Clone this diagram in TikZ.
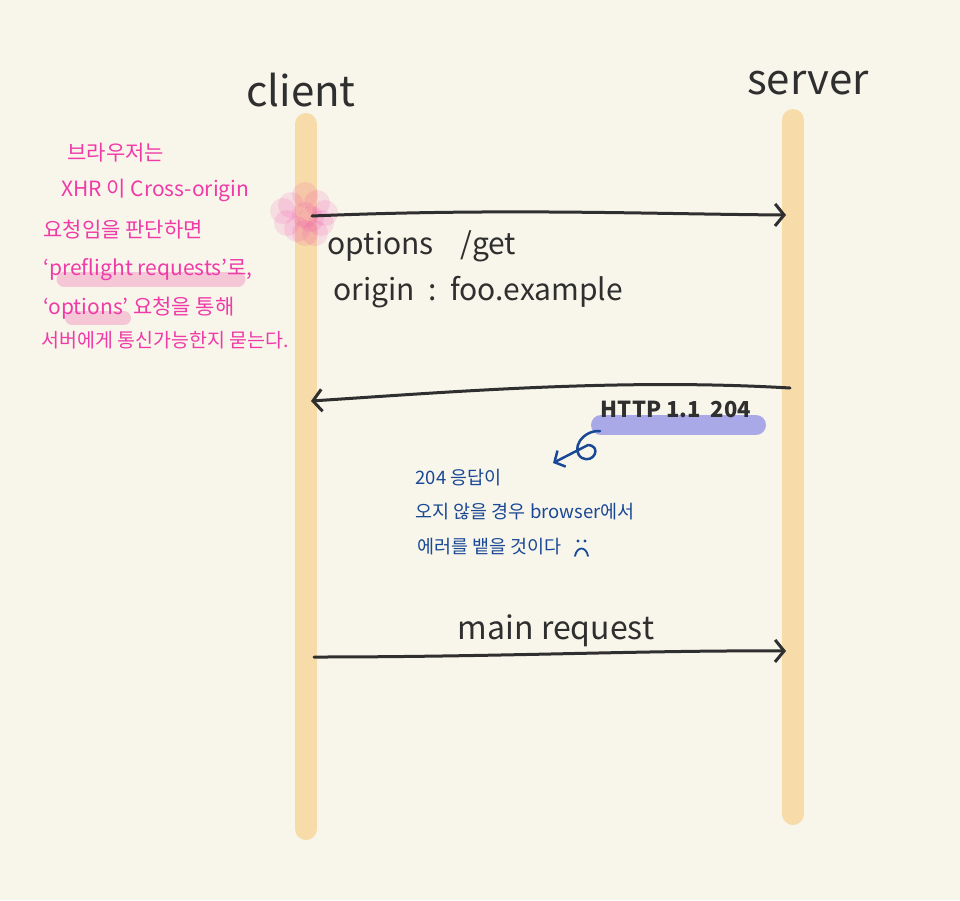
\documentclass[tikz,border=0pt]{standalone}
\usepackage{fontspec}
\setmainfont{Noto Sans CJK KR}
\usetikzlibrary{arrows.meta}
\definecolor{bg}{HTML}{F8F6EA}
\definecolor{life}{HTML}{F7DBA9}
\definecolor{ink}{HTML}{2F2F2F}
\definecolor{pinkt}{HTML}{F03AA8}
\definecolor{pinkhl}{HTML}{F4C6D6}
\definecolor{bluehl}{HTML}{A9A9E8}
\definecolor{bluet}{HTML}{1A4896}
\begin{document}
\begin{tikzpicture}[x=1pt,y=-1pt,
  lifeline/.style={line width=22pt,draw=life,line cap=round},
  msg/.style={line width=3pt,draw=ink,line cap=round,-{Straight Barb[length=9pt,width=22pt,line width=3pt]}},
  actor/.style={font=\fontsize{42}{44}\selectfont,text=ink},
  msgtxt/.style={font=\fontsize{30}{32}\selectfont,text=ink,anchor=west},
  pnote/.style={font=\fontsize{21}{24}\selectfont,text=pinkt,anchor=west},
  bnote/.style={font=\fontsize{18.5}{20}\selectfont,text=bluet,anchor=west},
  hl/.style={line cap=round},
  blob/.style={fill=pinkt,fill opacity=0.13}]
\fill[bg] (0,0) rectangle (960,900);
\useasboundingbox (0,0) rectangle (960,900);
% lifelines
\coordinate (ct) at (306,124); \coordinate (cb) at (306,829);
\coordinate (st) at (793,120); \coordinate (sb) at (793,814);
\draw[lifeline] (ct) -- (cb);
\draw[lifeline] (st) -- (sb);
\node[actor] (client) at (301,90) {client};
\node[actor] (server) at (808,83) {server};
% pink blob
\foreach \dx/\dy in {0/0,-14/-10,12/-12,-18/8,16/8,0/-20,0/18,-8/14,10/18,20/-2,-22/-4,6/4}{
  \fill[blob] (305+\dx,215+\dy) circle (13);
}
% messages
\coordinate (m1a) at (312,216); \coordinate (m1b) at (786,215);
\draw[msg] (m1a) .. controls (500,208) and (650,214) .. (m1b);
\coordinate (m2a) at (790,388); \coordinate (m2b) at (311,401);
\draw[msg] (m2a) .. controls (620,378) and (450,392) .. (m2b);
\coordinate (m3a) at (314,657); \coordinate (m3b) at (786,651);
\draw[msg] (m3a) .. controls (500,657) and (650,650) .. (m3b);
\node[msgtxt] (opt) at (324,246) {options\ \ \ \ /get};
\node[msgtxt] (orig) at (330,292) {origin\ \ :\ \ foo.example};
\node[font=\fontsize{32}{34}\selectfont,text=ink] (main) at (556,631) {main\ request};
% pink notes
\draw[hl,line width=15pt,draw=pinkhl] (64,279) -- (238,279);
\draw[hl,line width=14pt,draw=pinkhl] (72,318) -- (124,318);
\node[pnote] (p1) at (64,153) {브라우저는};
\node[pnote] (p2) at (58,190) {XHR 이 Cross-origin};
\node[pnote] (p3) at (40,230) {요청임을 판단하면};
\node[pnote] (p4) at (40,270) {‘preflight requests’로,};
\node[pnote] (p5) at (40,308) {‘options’ 요청을 통해};
\node[pnote,font=\fontsize{19.5}{22}\selectfont] (p6) at (38,340) {서버에게 통신가능한지 묻는다.};
% http response
\draw[hl,line width=20pt,draw=bluehl] (601,425) -- (756,425);
\node[font=\fontsize{22}{24}\selectfont\bfseries,text=ink] (http) at (676,409) {HTTP 1.1\ \ 204};
\coordinate (ca) at (600,431); \coordinate (cz) at (553,463);
\draw[line width=2.5pt,draw=bluet,line cap=round,line join=round,-{Straight Barb[length=8pt,width=18pt,line width=2.5pt]}]
  (ca) .. controls (582,430) and (570,450) .. (582,458) .. controls (594,464) and (602,446) .. (588,445) -- (cz);
\node[bnote] (b1) at (412,478) {204 응답이};
\node[bnote] (b2) at (412,512) {오지 않을 경우 browser에서};
\node[bnote] (b3) at (414,547) {에러를 뱉을 것이다};
% frown face
\fill[bluet] (578,541) circle (1.6); \fill[bluet] (585,541) circle (1.6);
\draw[bluet,line width=1.8pt,line cap=round] (575,556) .. controls (577,546) and (586,546) .. (588,556);
\end{tikzpicture}
\end{document}
